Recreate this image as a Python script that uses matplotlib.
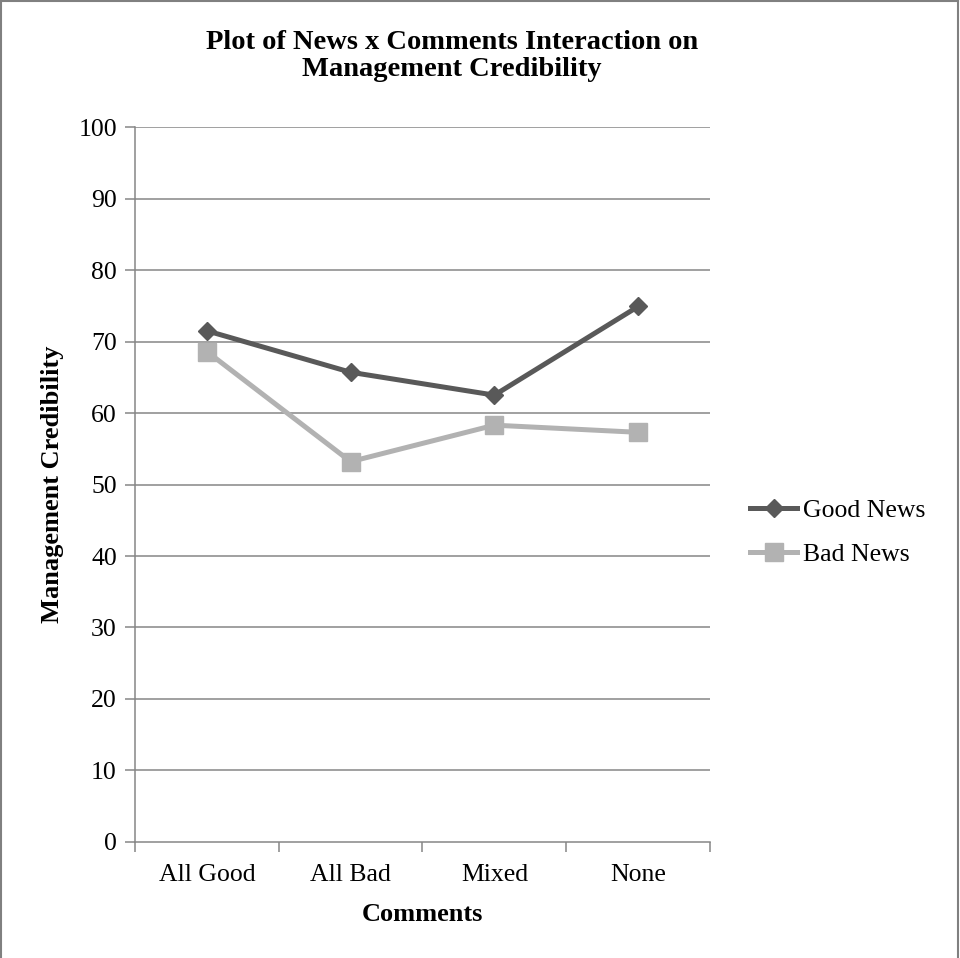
import matplotlib.pyplot as plt
from matplotlib.lines import Line2D

comments = ["All Good", "All Bad", "Mixed", "None"]
good_news = [71.5, 65.7, 62.5, 74.9]
bad_news = [68.6, 53.2, 58.3, 57.3]
y_ticks = list(range(0, 101, 10))

plt.rcParams['font.family'] = ['Liberation Serif', 'DejaVu Serif']

fig = plt.figure(figsize=(9.6, 9.58), dpi=100)
ax = fig.add_axes([0.1406, 0.1211, 0.599, 0.7463])

grid_col = "#868686"
x = range(len(comments))
ax.plot(x, good_news, color="#595959", lw=3.6, marker="D", ms=9.5, label="Good News", zorder=4)
ax.plot(x, bad_news, color="#b2b2b2", lw=3.6, marker="s", ms=12.5, label="Bad News", zorder=3)

ax.set_xlim(-0.5, 3.5)
ax.set_ylim(0, 100)
ax.set_yticks(y_ticks)
ax.set_xticks([-0.5, 0.5, 1.5, 2.5, 3.5])
ax.set_xticklabels([])
ax.set_xticks(list(x), minor=True)
ax.set_xticklabels(comments, minor=True, fontsize=18.5)
ax.tick_params(axis="x", which="minor", length=0, pad=16)
ax.tick_params(axis="x", which="major", length=7, width=1.1, color=grid_col, direction="out")
ax.tick_params(axis="y", length=7, width=1.1, color=grid_col, labelsize=18.5, pad=6)

for v in y_ticks[1:]:
    ax.axhline(v, color=grid_col, lw=1.1, zorder=1)

for s in ["top", "right"]:
    ax.spines[s].set_visible(False)
for s in ["left", "bottom"]:
    ax.spines[s].set_color(grid_col)
    ax.spines[s].set_linewidth(1.1)

ax.set_xlabel("Comments", fontsize=19, fontweight="bold", labelpad=12)
ax.set_ylabel("Management Credibility", fontsize=19, fontweight="bold", labelpad=10)

fig.text(0.471, 0.942, "Plot of News x Comments Interaction on\nManagement Credibility",
         ha="center", va="center", fontsize=20.5, fontweight="bold", linespacing=1.1)

fig.legend(loc="center left", bbox_to_anchor=(0.757, 0.444), frameon=False, fontsize=18.5,
           handlelength=1.85, handletextpad=0.2, labelspacing=0.83)

# outer frame on top, left and right edges
frame = dict(color="#808080", lw=1.5, transform=fig.transFigure)
fig.add_artist(Line2D([0.001, 0.001], [0, 0.999], **frame))
fig.add_artist(Line2D([0.998, 0.998], [0, 0.999], **frame))
fig.add_artist(Line2D([0.001, 0.998], [0.999, 0.999], **frame))

fig.savefig("out.png", dpi=100)
